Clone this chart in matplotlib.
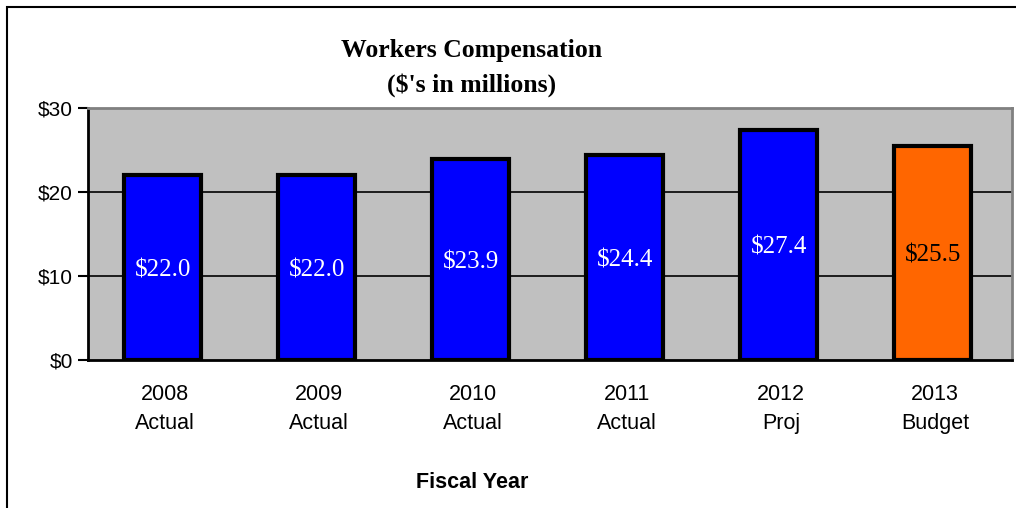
import matplotlib
matplotlib.use("Agg")
import matplotlib.pyplot as plt
from matplotlib.patches import Rectangle

years = ["2008", "2009", "2010", "2011", "2012", "2013"]
kinds = ["Actual", "Actual", "Actual", "Actual", "Proj", "Budget"]
values = [22.0, 22.0, 23.9, 24.4, 27.4, 25.5]
colors = ["#0000FF"] * 5 + ["#FF6600"]
label_colors = ["white"] * 5 + ["black"]

fig = plt.figure(figsize=(10.16, 5.08), dpi=100)
ax = fig.add_axes([88 / 1016, 1 - 360 / 508, 924 / 1016, 252 / 508])

# outer chart frame (runs off the right and bottom edges)
fig.patches.append(Rectangle((7 / 1016, -0.1), 1.2, 1 - 7 / 508 + 0.1,
                             transform=fig.transFigure, fill=False,
                             edgecolor="black", linewidth=1.5))

ax.set_facecolor("#C0C0C0")
x = [i - 0.015 for i in range(len(values))]
ax.bar(x, values, width=0.5, color=colors, edgecolor="black", linewidth=3, zorder=3)
for xi, v, c in zip(x, values, label_colors):
    ax.text(xi, v / 2, f"${v:.1f}", ha="center", va="center_baseline", color=c,
            fontsize=18, family="Liberation Serif", zorder=4)

ax.set_xlim(-0.5, len(values) - 0.5)
ax.set_ylim(0, 30)
ax.set_yticks([0, 10, 20, 30])
ax.set_yticklabels(["$0", "$10", "$20", "$30"], family="Liberation Sans", fontsize=15)
ax.set_xticks(range(len(values)))
ax.set_xticklabels([f"{y}\n{k}" for y, k in zip(years, kinds)],
                   family="Liberation Sans", fontsize=15.5, linespacing=1.55)
ax.tick_params(axis="x", length=0, pad=17)
ax.tick_params(axis="y", length=7, width=1.5, pad=4)
for val in (10, 20):
    ax.axhline(val, color="black", linewidth=1.2, zorder=1)

for side in ("top", "right"):
    ax.spines[side].set_color("#808080")
    ax.spines[side].set_linewidth(2)
for side in ("left", "bottom"):
    ax.spines[side].set_color("black")
    ax.spines[side].set_linewidth(2)

fig.text(472 / 1016, 1 - 68 / 508, "Workers Compensation\n($'s in millions)",
         ha="center", va="center", fontsize=18.5, fontweight="bold",
         family="Liberation Serif", linespacing=1.65)
fig.text(472 / 1016, 1 - 482 / 508, "Fiscal Year", ha="center", va="center",
         fontsize=15.5, fontweight="bold", family="Liberation Sans")

fig.savefig("out.png", dpi=100)
